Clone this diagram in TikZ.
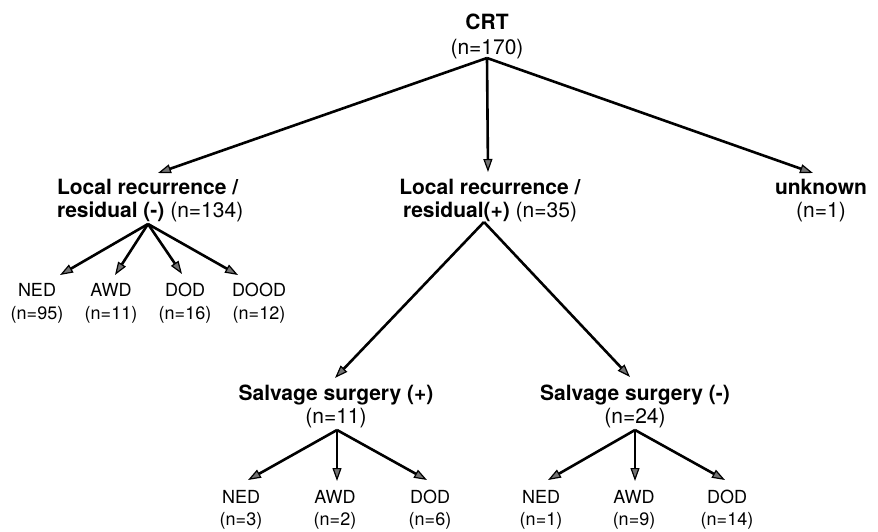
\documentclass[tikz,border=0pt]{standalone}
\usepackage{fontspec}
\setmainfont{TeX Gyre Heros}
\usetikzlibrary{arrows.meta}
\tikzset{
  title/.style={inner sep=0pt,outer sep=0pt,font=\fontsize{21}{22.5}\selectfont,align=center},
  leaf/.style={inner sep=0pt,outer sep=0pt,font=\fontsize{18}{22.5}\selectfont,align=center,anchor=north},
  arr/.style={line width=2.6pt,-{Triangle[length=13pt,width=9pt,fill=black!55,line width=1.2pt]}},
}
\begin{document}
\begin{tikzpicture}[x=1pt,y=-1pt]
\useasboundingbox (0,0) rectangle (878,531);
% nodes
\node[title,anchor=north,font=\fontsize{21}{24.5}\selectfont] (crt) at (487,14.3) {\textbf{CRT}\\(n=170)};
\node[title,anchor=north west,align=left] (lneg) at (57,179.3) {\textbf{Local recurrence /}\\\textbf{residual (-)} (n=134)};
\node[title,anchor=north] (lpos) at (490,179.3) {\textbf{Local recurrence /}\\\textbf{residual(+)} (n=35)};
\node[title,anchor=north] (unk) at (821,179.3) {\textbf{unknown}\\(n=1)};
\node[leaf] (ned1) at (37,283.4) {NED\\(n=95)};
\node[leaf] (awd1) at (111,283.4) {AWD\\(n=11)};
\node[leaf] (dod1) at (185,283.4) {DOD\\(n=16)};
\node[leaf] (dood1) at (259,283.4) {DOOD\\(n=12)};
\node[title,anchor=north] (sp) at (336,385.3) {\textbf{Salvage surgery (+)}\\(n=11)};
\node[title,anchor=north] (sm) at (635,385.3) {\textbf{Salvage surgery (-)}\\(n=24)};
\node[leaf] (ned2) at (241,490) {NED\\(n=3)};
\node[leaf] (awd2) at (335,490) {AWD\\(n=2)};
\node[leaf] (dod2) at (430,490) {DOD\\(n=6)};
\node[leaf] (ned3) at (541,490) {NED\\(n=1)};
\node[leaf] (awd3) at (634,490) {AWD\\(n=9)};
\node[leaf] (dod3) at (727,490) {DOD\\(n=14)};
% connector points
\coordinate (crt-out) at (487,58);
\coordinate (lneg-in) at (158,173);
\coordinate (lpos-in) at (488,172);
\coordinate (unk-in) at (813,173);
\coordinate (lneg-out) at (148,224);
\coordinate (ned1-in) at (60,275);
\coordinate (awd1-in) at (115,275);
\coordinate (dod1-in) at (182,274);
\coordinate (dood1-in) at (238,275);
\coordinate (lpos-out) at (484,222);
\coordinate (sp-in) at (335,378);
\coordinate (sm-in) at (630,377);
\coordinate (sp-out) at (337,430);
\coordinate (ned2-in) at (248,480);
\coordinate (awd2-in) at (337,481);
\coordinate (dod2-in) at (427,480);
\coordinate (sm-out) at (635,430);
\coordinate (ned3-in) at (548,480);
\coordinate (awd3-in) at (635,481);
\coordinate (dod3-in) at (725,480);
% connectors
\draw[arr] (crt-out) -- (lneg-in);
\draw[arr] (crt-out) -- (lpos-in);
\draw[arr] (crt-out) -- (unk-in);
\draw[arr] (lneg-out) -- (ned1-in);
\draw[arr] (lneg-out) -- (awd1-in);
\draw[arr] (lneg-out) -- (dod1-in);
\draw[arr] (lneg-out) -- (dood1-in);
\draw[arr] (lpos-out) -- (sp-in);
\draw[arr] (lpos-out) -- (sm-in);
\draw[arr] (sp-out) -- (ned2-in);
\draw[arr] (sp-out) -- (awd2-in);
\draw[arr] (sp-out) -- (dod2-in);
\draw[arr] (sm-out) -- (ned3-in);
\draw[arr] (sm-out) -- (awd3-in);
\draw[arr] (sm-out) -- (dod3-in);
\end{tikzpicture}
\end{document}
